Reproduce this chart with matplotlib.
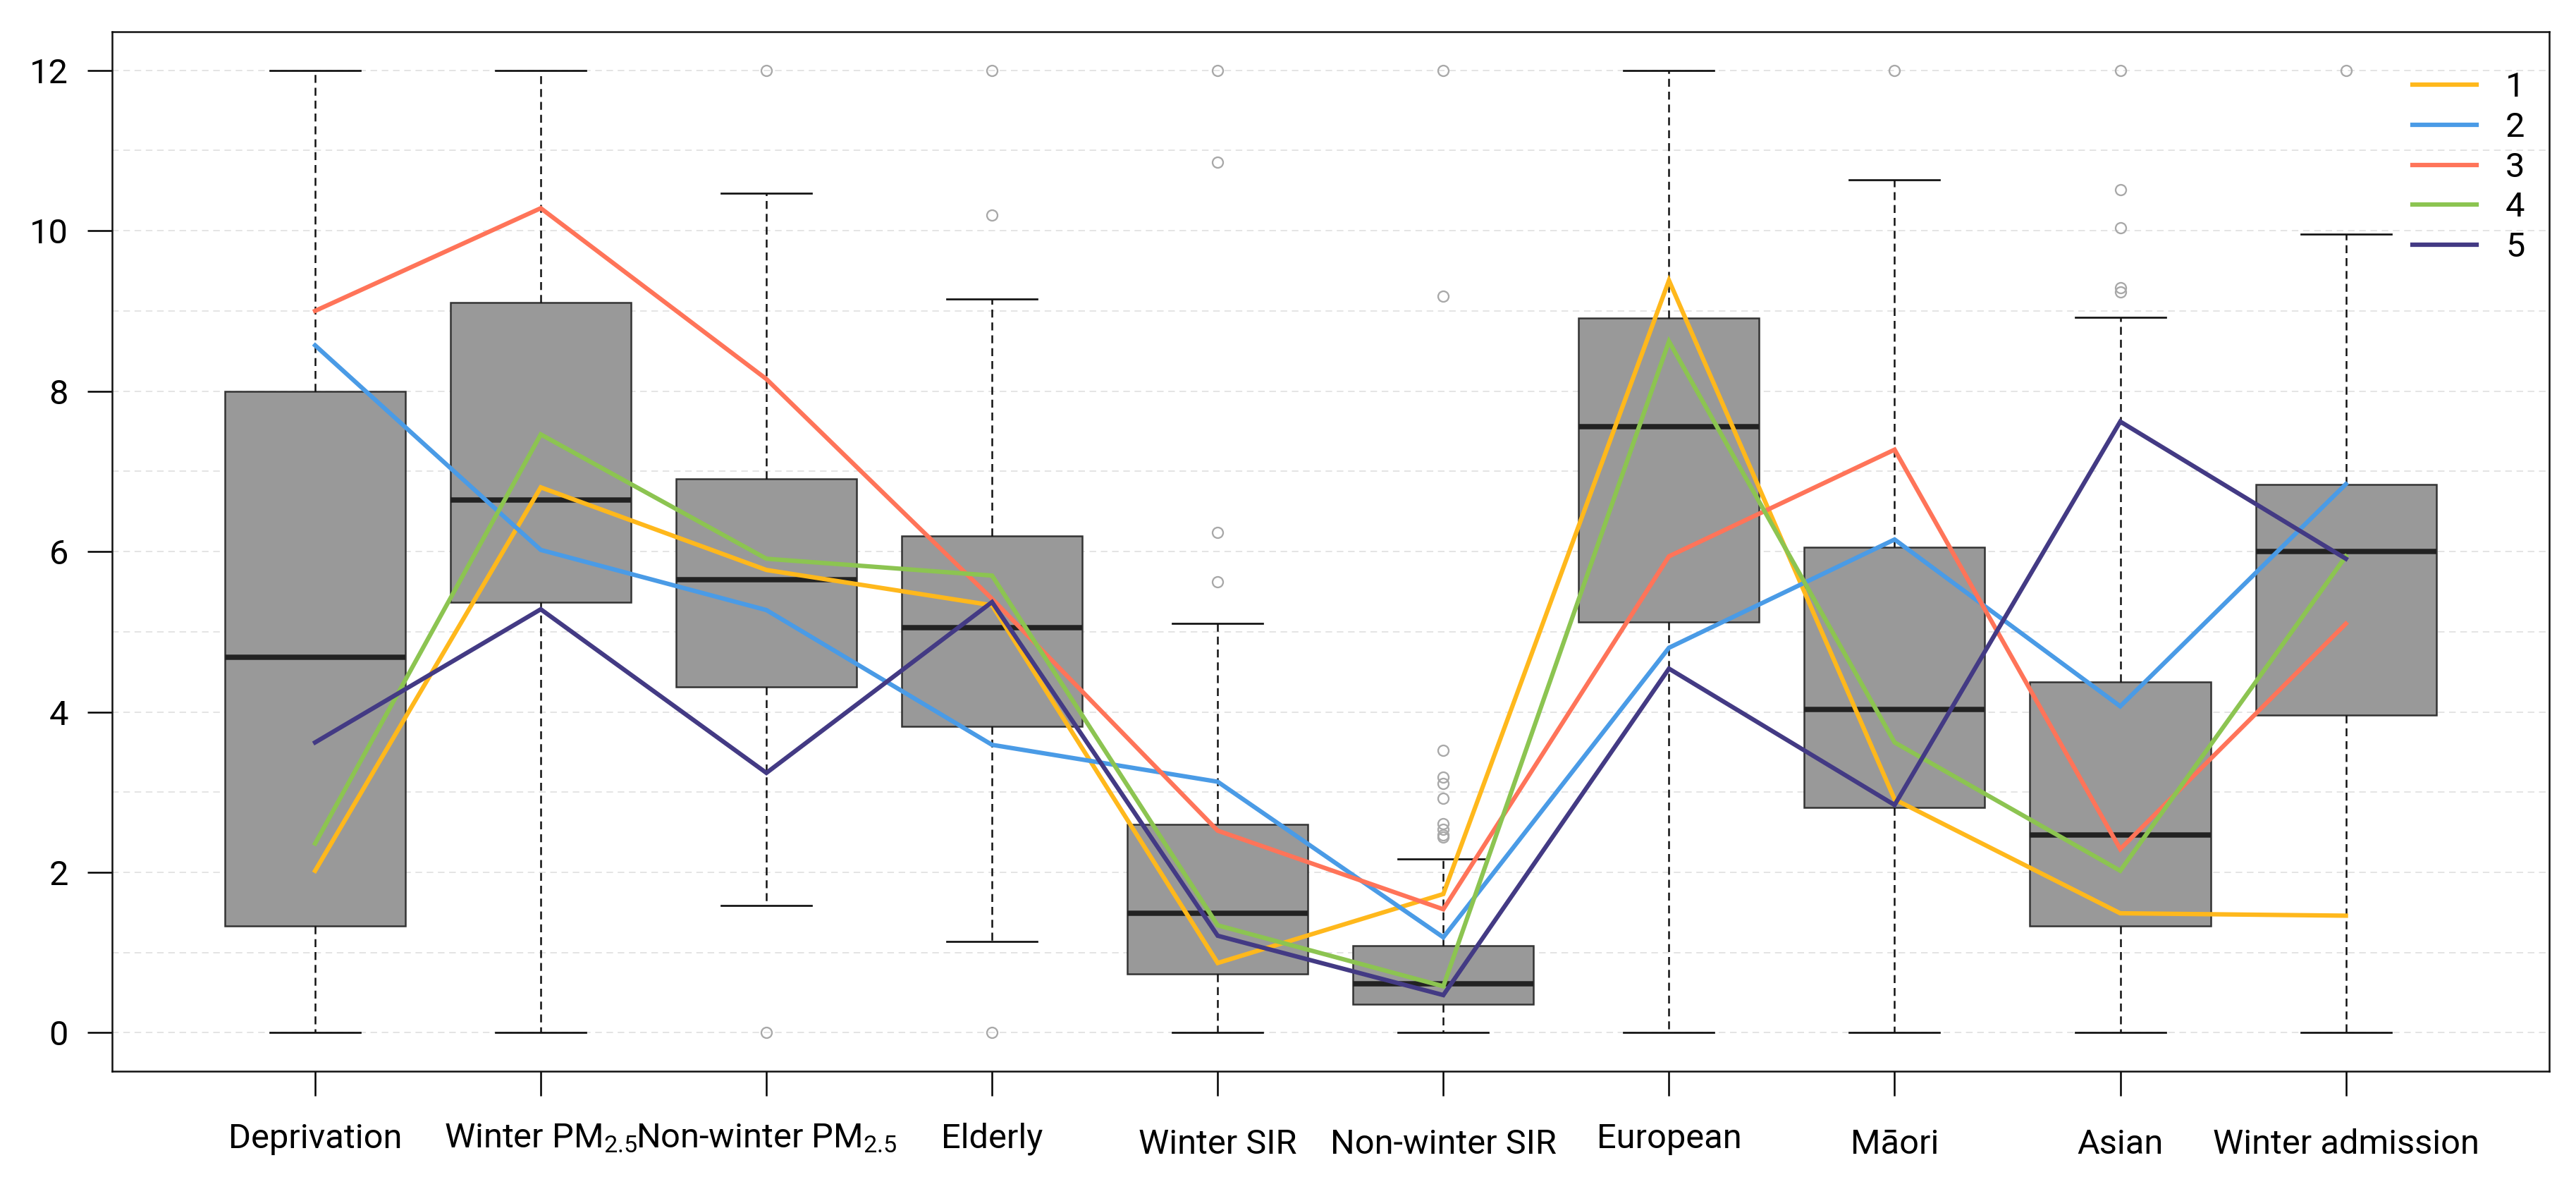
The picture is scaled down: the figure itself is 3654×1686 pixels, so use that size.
import matplotlib
matplotlib.use("Agg")
import matplotlib.pyplot as plt
import numpy as np

plt.rcParams["font.family"] = ["Roboto", "DejaVu Sans"]
plt.rcParams["mathtext.fontset"] = "custom"
plt.rcParams["mathtext.rm"] = "Roboto"
plt.rcParams["mathtext.it"] = "Roboto:italic"
plt.rcParams["mathtext.bf"] = "Roboto:bold"

CATEGORIES = [
    "Deprivation", "Winter PM$_{2.5}$", "Non-winter PM$_{2.5}$", "Elderly",
    "Winter SIR", "Non-winter SIR", "European", "Māori", "Asian", "Winter admission",
]

# box statistics
WHISKER_LOW = [0.0, 0.0, 1.59, 1.14, 0.0, 0.0, 0.0, 0.0, 0.0, 0.0]
Q1 = [1.33, 5.37, 4.31, 3.82, 0.73, 0.36, 5.12, 2.81, 1.33, 3.96]
MEDIAN = [4.68, 6.64, 5.65, 5.05, 1.49, 0.61, 7.56, 4.03, 2.47, 6.00]
Q3 = [8.00, 9.10, 6.91, 6.19, 2.60, 1.09, 8.91, 6.05, 4.37, 6.84]
WHISKER_HIGH = [12.0, 12.0, 10.47, 9.15, 5.10, 2.17, 12.0, 10.63, 8.92, 9.96]
OUTLIERS = [
    [],
    [],
    [12.0, 0.0],
    [12.0, 10.19, 0.0],
    [12.0, 10.85, 6.24, 5.62],
    [12.0, 9.18, 3.52, 3.19, 3.11, 2.92, 2.61, 2.54, 2.47, 2.44],
    [],
    [12.0],
    [12.0, 10.51, 10.04, 9.29, 9.24],
    [12.0],
]

# cluster profiles
CLUSTER_1 = [2.02, 6.80, 5.77, 5.33, 0.87, 1.73, 9.38, 2.91, 1.49, 1.46]
CLUSTER_2 = [8.57, 6.02, 5.27, 3.59, 3.13, 1.19, 4.80, 6.15, 4.07, 6.84]
CLUSTER_3 = [9.00, 10.28, 8.15, 5.41, 2.52, 1.54, 5.94, 7.27, 2.29, 5.10]
CLUSTER_4 = [2.36, 7.46, 5.91, 5.70, 1.34, 0.58, 8.62, 3.62, 2.02, 5.94]
CLUSTER_5 = [3.62, 5.28, 3.24, 5.37, 1.21, 0.47, 4.54, 2.84, 7.62, 5.91]

CLUSTER_LABELS = ["1", "2", "3", "4", "5"]
CLUSTER_COLORS = ["#FFB81C", "#4A9BE6", "#FF7459", "#8CC451", "#433A84"]

FONT_SIZE = 11.7


def main():
    fig = plt.figure(figsize=(12.18, 5.62), dpi=300)
    ax = fig.add_axes([0.0435, 0.099, 0.946, 0.8743])

    positions = np.arange(1, len(CATEGORIES) + 1)
    stats = []
    for i, name in enumerate(CATEGORIES):
        stats.append({
            "label": name,
            "whislo": WHISKER_LOW[i],
            "q1": Q1[i],
            "med": MEDIAN[i],
            "q3": Q3[i],
            "whishi": WHISKER_HIGH[i],
            "fliers": OUTLIERS[i],
        })

    ax.bxp(
        stats,
        positions=positions,
        widths=0.8,
        capwidths=0.4,
        patch_artist=True,
        boxprops=dict(facecolor="#999999", edgecolor="#333333", linewidth=0.6),
        whiskerprops=dict(color="#111111", linewidth=0.6, linestyle=(0, (4.5, 2.8))),
        capprops=dict(color="#111111", linewidth=0.65),
        medianprops=dict(color="#222222", linewidth=1.8),
        flierprops=dict(marker="o", markerfacecolor="none", markeredgecolor="#a8a8a8",
                        markersize=3.6, markeredgewidth=0.55),
        zorder=2,
    )

    clusters = [CLUSTER_1, CLUSTER_2, CLUSTER_3, CLUSTER_4, CLUSTER_5]
    for values, label, color in zip(clusters, CLUSTER_LABELS, CLUSTER_COLORS):
        ax.plot(positions, values, color=color, linewidth=1.5, label=label,
                zorder=4, solid_joinstyle="miter")

    ax.set_xlim(0.1, 10.9)
    ax.set_ylim(-0.48, 12.48)

    ax.set_yticks(np.arange(0, 13, 2))
    ax.set_yticks(np.arange(1, 13, 2), minor=True)
    ax.yaxis.grid(True, which="both", color="#e3e3e3", linewidth=0.45,
                  linestyle=(0, (5, 3.5)))
    ax.set_axisbelow(True)
    ax.tick_params(axis="y", which="major", length=8.4, width=0.6, pad=6.5,
                   labelsize=FONT_SIZE, direction="out")
    ax.tick_params(axis="y", which="minor", length=0)

    ax.set_xticks(positions)
    ax.set_xticklabels(CATEGORIES)
    ax.tick_params(axis="x", length=8.4, width=0.6, pad=9, labelsize=FONT_SIZE,
                   direction="out")
    for i, tick in enumerate(ax.xaxis.get_major_ticks()):
        if i in (4, 5, 7, 8, 9):
            tick.set_pad(11)

    for spine in ax.spines.values():
        spine.set_linewidth(0.6)
        spine.set_color("#111111")

    ax.legend(loc="upper right", frameon=False, fontsize=FONT_SIZE, handlelength=1.85,
              handletextpad=0.85, labelspacing=0.22, borderaxespad=0.3,
              bbox_to_anchor=(1.0, 0.985))

    fig.savefig("out.png", dpi=300)
    plt.close(fig)


if __name__ == "__main__":
    main()
